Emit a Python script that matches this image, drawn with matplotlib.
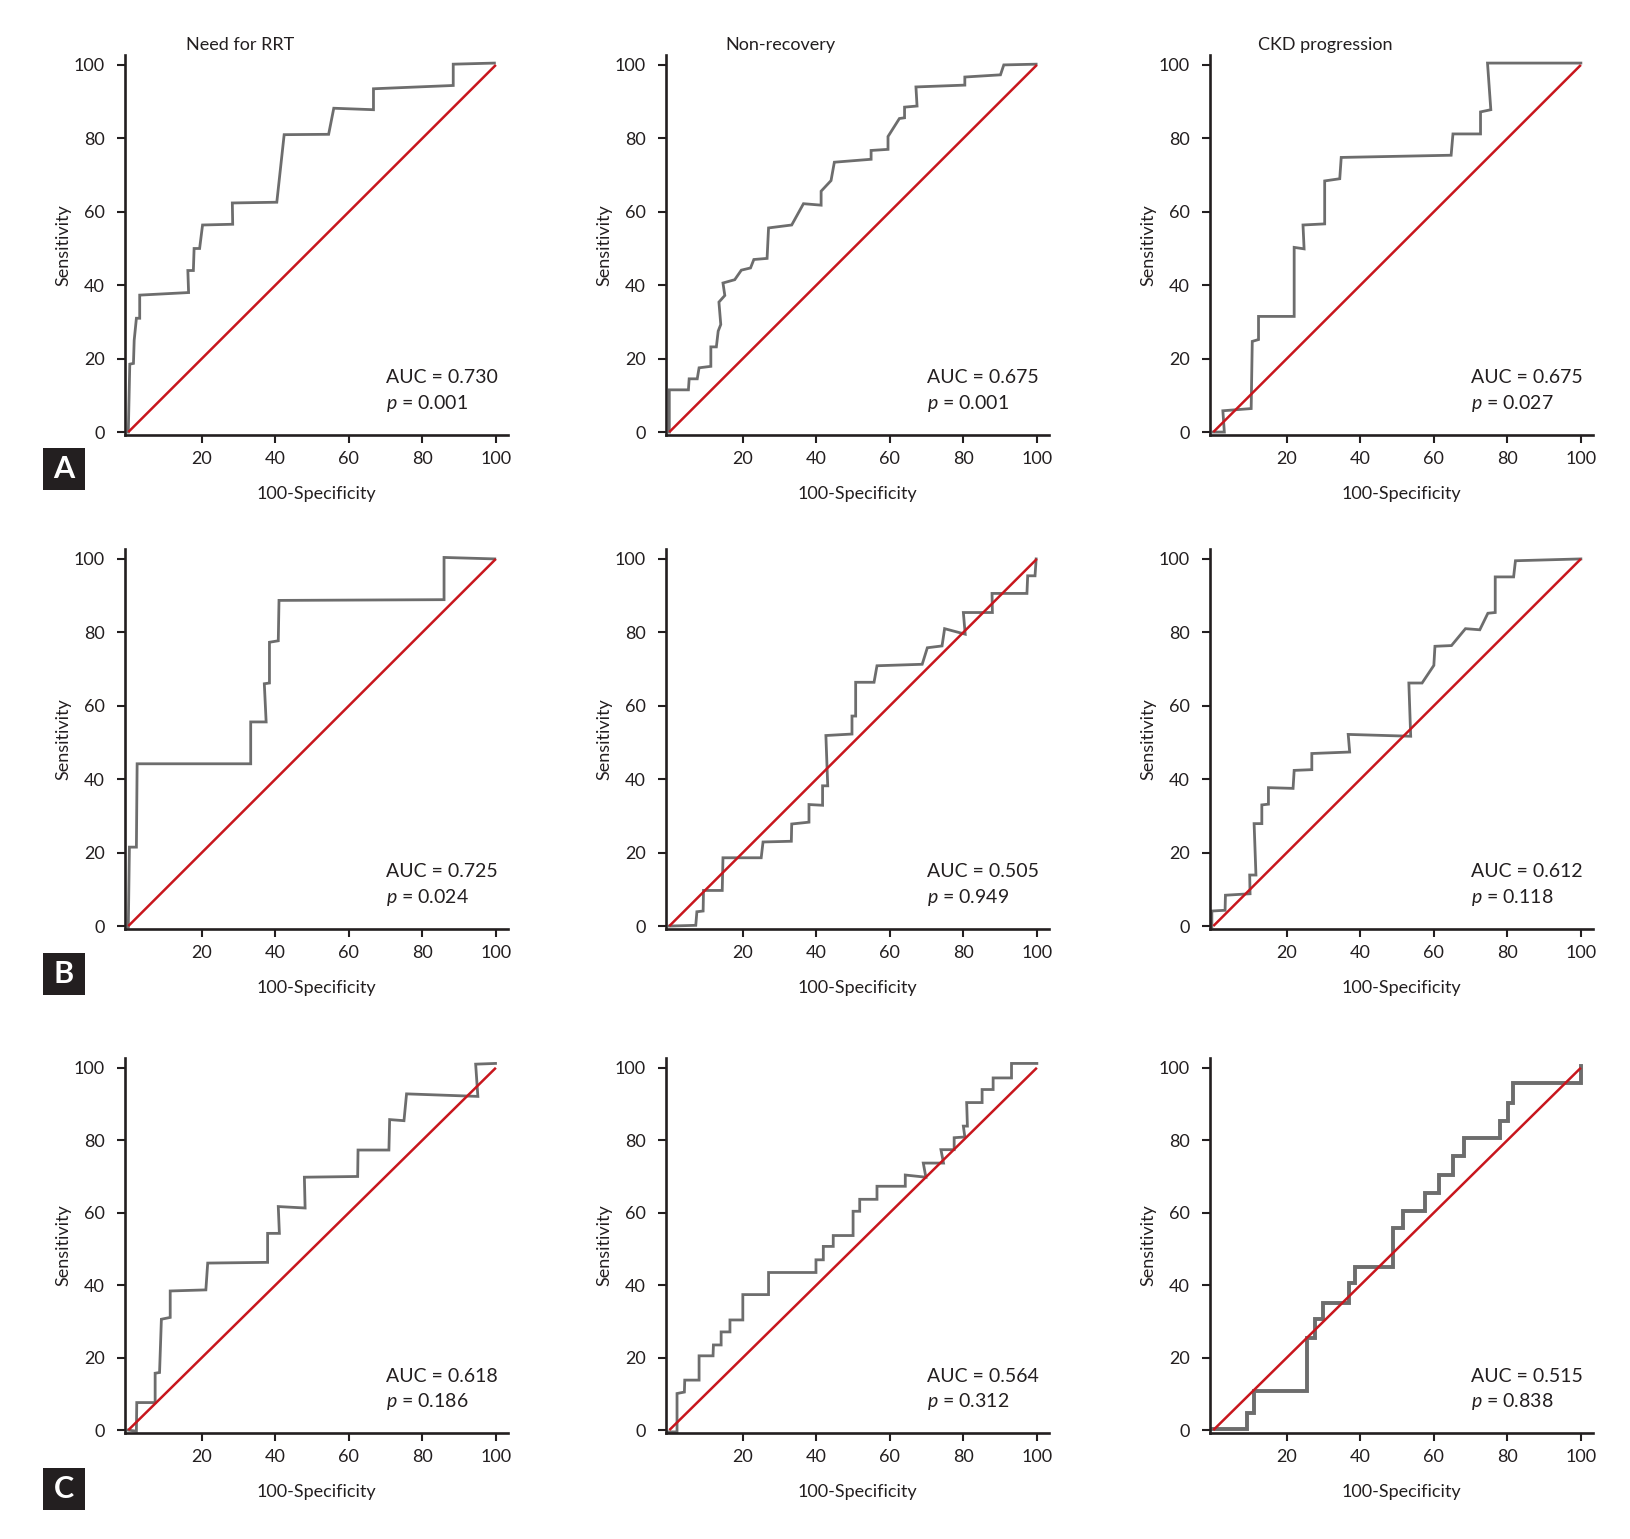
import matplotlib
matplotlib.use('Agg')
import matplotlib.pyplot as plt
from matplotlib.patches import Rectangle

plt.rcParams['font.family'] = ['Lato', 'DejaVu Sans']
plt.rcParams['mathtext.fontset'] = 'custom'
plt.rcParams['mathtext.rm'] = 'Lato'
plt.rcParams['mathtext.it'] = 'Lato:italic'

# column titles and row letters
col_titles = ['Need for RRT', 'Non-recovery', 'CKD progression']
row_letters = ['A', 'B', 'C']

# ROC points (100-specificity, sensitivity)
a1_x = [0, 0.4, 1.4, 1.6, 2.2, 3.1, 3.1, 16.4, 16.2, 17.7, 17.9, 19.4, 20.2, 28.4, 28.3, 40.4, 42.4, 54.5, 55.9, 66.7, 66.7, 88.4, 88.4, 99.6]
a1_y = [0, 18.5, 18.7, 25, 31, 31, 37.3, 38, 44, 44, 50, 50, 56.4, 56.6, 62.4, 62.6, 81, 81.1, 88.2, 87.8, 93.5, 94.4, 100.2, 100.5]

a2_x = [0, 0, 5.2, 5.4, 7.6, 8.1, 11.3, 11.3, 12.8, 13.3, 14, 13.5, 15.1, 14.6, 17.8, 19.6, 22.1, 23, 26.6, 27, 33.3, 36.5, 41.3, 41.3, 44, 44.9, 54.9, 54.9, 59.5, 59.5, 62.6, 64, 64, 67.4, 67.1, 80.4, 80.4, 90.1, 91, 99.8]
a2_y = [0, 11.5, 11.5, 14.5, 14.5, 17.5, 17.9, 23.2, 23.2, 27.5, 29.3, 35.4, 37.2, 40.6, 41.5, 44.1, 44.7, 47, 47.3, 55.6, 56.4, 62.2, 61.8, 65.6, 68.5, 73.5, 74.3, 76.7, 77, 80.5, 85.4, 85.6, 88.5, 88.8, 94, 94.5, 96.7, 97.3, 100, 100.2]

a3_x = [0, 3, 2.6, 10.3, 10.6, 12.3, 12.3, 22, 22, 24.7, 24.4, 30.3, 30.3, 34.4, 34.8, 64.7, 65.2, 72.7, 72.7, 75.5, 74.6, 100]
a3_y = [0, 0, 5.8, 6.4, 24.7, 25.2, 31.5, 31.5, 50.3, 49.9, 56.4, 56.7, 68.4, 69, 74.8, 75.4, 81.2, 81.2, 87.2, 87.8, 100.5, 100.5]

b1_x = [0, 0.3, 2.2, 2.4, 33.3, 33.3, 37.5, 37, 38.4, 38.4, 40.8, 41, 85.9, 85.9, 99.7]
b1_y = [-0.3, 21.5, 21.5, 44.2, 44.2, 55.6, 55.6, 66, 66.2, 77.3, 77.7, 88.7, 88.9, 100.4, 100]

b2_x = [0, 7.2, 7.5, 9.2, 9.3, 14.4, 14.6, 25, 25.5, 33.2, 33.3, 38, 38, 41.7, 41.7, 43.1, 42.6, 49.7, 49.7, 50.7, 50.7, 55.7, 56.5, 68.8, 70.2, 74.2, 74.9, 80.5, 80, 87.9, 87.8, 97.3, 97.5, 99.5, 99.8]
b2_y = [0, 0.2, 3.9, 4.1, 9.7, 9.7, 18.6, 18.6, 22.9, 23.1, 27.8, 28.3, 33.1, 32.9, 38.2, 38.2, 51.9, 52.3, 57.2, 57.2, 66.4, 66.4, 70.9, 71.3, 75.8, 76.3, 81, 79.5, 85.4, 85.4, 90.6, 90.6, 95.4, 95.4, 100]

b3_x = [-0.4, -0.4, 3.2, 3.3, 10, 9.9, 11.6, 11.1, 13.2, 13.2, 15, 15, 21.7, 22, 26.8, 26.8, 37.1, 36.7, 53.7, 53.2, 56.8, 60, 60.3, 64.8, 68.6, 72.5, 74.7, 76.7, 76.7, 81.7, 82.2, 100]
b3_y = [-0.3, 4.1, 4.3, 8.4, 8.8, 13.9, 13.9, 27.9, 27.9, 33, 33.2, 37.7, 37.5, 42.4, 42.6, 47, 47.4, 52.2, 51.7, 66.2, 66.2, 71, 76.2, 76.4, 81, 80.7, 85.2, 85.4, 95.1, 95.1, 99.5, 100]

c1_x = [0, 2.2, 2.3, 7.3, 7.3, 8.5, 9, 11.4, 11.4, 21.1, 21.6, 37.9, 37.9, 41.1, 40.8, 48.1, 47.9, 62.4, 62.5, 70.9, 71.1, 75, 75.7, 95.1, 94.5, 99.9]
c1_y = [0, -0.3, 7.6, 7.6, 15.7, 15.9, 30.6, 31.1, 38.4, 38.7, 46.1, 46.3, 54.3, 54.3, 61.7, 61.3, 69.8, 70, 77.3, 77.3, 85.7, 85.4, 92.8, 92.1, 101, 101.2]

c2_x = [-0.7, 2.1, 2.1, 4.1, 4.2, 8.1, 8.1, 11.9, 12, 14.1, 14.1, 16.5, 16.5, 20, 20, 27, 27, 39.9, 39.9, 41.9, 41.9, 44.6, 44.6, 50, 50, 51.8, 51.8, 56.5, 56.5, 64.2, 64.2, 69.8, 69.1, 74.6, 73.9, 77.5, 77.5, 80.4, 80, 81.1, 80.9, 85.1, 85.1, 88.1, 88.1, 93.1, 93.1, 100]
c2_y = [-0.5, -0.5, 10.1, 10.5, 13.8, 13.8, 20.5, 20.5, 23.5, 23.5, 27.1, 27.1, 30.4, 30.4, 37.4, 37.4, 43.5, 43.5, 47, 47, 50.7, 50.7, 53.7, 53.7, 60.4, 60.4, 63.7, 63.7, 67.3, 67.3, 70.4, 69.8, 73.7, 73.7, 77.4, 77.4, 80.7, 80.9, 83.9, 83.9, 90.4, 90.4, 94, 94, 97.2, 97.2, 101.2, 101.2]

c3_x = [-0.4, 9.1, 9.1, 11.1, 11.1, 25.6, 25.6, 27.7, 27.7, 29.9, 29.9, 36.9, 36.9, 38.5, 38.5, 48.9, 48.9, 51.6, 51.6, 57.6, 57.6, 61.4, 61.4, 65.2, 65.2, 68.1, 68.1, 77.9, 77.9, 80.2, 80.2, 81.5, 81.5, 100, 100]
c3_y = [0.2, 0.2, 4.8, 4.8, 10.8, 10.8, 25.3, 25.3, 30.6, 30.6, 35.2, 35.2, 40.6, 40.6, 45.1, 45.1, 55.7, 55.7, 60.4, 60.4, 65.5, 65.5, 70.5, 70.5, 75.6, 75.6, 80.6, 80.6, 85.3, 85.3, 90.3, 90.3, 95.9, 95.9, 100.5]

curves_x = [[a1_x, a2_x, a3_x], [b1_x, b2_x, b3_x], [c1_x, c2_x, c3_x]]
curves_y = [[a1_y, a2_y, a3_y], [b1_y, b2_y, b3_y], [c1_y, c2_y, c3_y]]

auc_values = [['0.730', '0.675', '0.675'], ['0.725', '0.505', '0.612'], ['0.618', '0.564', '0.515']]
p_values = [['0.001', '0.001', '0.027'], ['0.024', '0.949', '0.118'], ['0.186', '0.312', '0.838']]

W, H = 1631, 1539
fig = plt.figure(figsize=(W / 100.0, H / 100.0), dpi=100)

col_left = [125, 666, 1210]
ax_w = 383
row_top = [55, 549, 1058]
row_h = [380, 380, 375]
letter_top = [448, 953, 1468]

ink = '#231f20'
gray = '#6d6d6d'
red = '#c8161d'

for r in range(3):
    for c in range(3):
        ax = fig.add_axes([col_left[c] / W, 1 - (row_top[r] + row_h[r]) / H, ax_w / W, row_h[r] / H])
        ax.plot([0, 100], [0, 100], color=red, lw=1.8, zorder=3, solid_capstyle='butt')
        lw = 2.8 if (r == 2 and c == 2) else 2.0
        ax.plot(curves_x[r][c], curves_y[r][c], color=gray, lw=lw, zorder=2, solid_joinstyle='miter')
        ax.set_xlim(-0.9, 103.3)
        ax.set_ylim(-0.8, 102.7)
        ax.set_xticks([20, 40, 60, 80, 100])
        ax.set_yticks([0, 20, 40, 60, 80, 100])
        for s in ['top', 'right']:
            ax.spines[s].set_visible(False)
        for s in ['left', 'bottom']:
            ax.spines[s].set_linewidth(1.9)
            ax.spines[s].set_color(ink)
        ax.tick_params(axis='both', direction='out', length=5.5, width=1.5, colors=ink, labelsize=13)
        ax.tick_params(axis='y', pad=9)
        ax.tick_params(axis='x', pad=6)
        ax.set_xlabel('100-Specificity', fontsize=13, color=ink)
        ax.set_ylabel('Sensitivity', fontsize=13, color=ink)
        ax.xaxis.set_label_coords(0.5, -0.135)
        ax.yaxis.set_label_coords(-0.14, 0.5)
        ax.text(70, 14.8, 'AUC = ' + auc_values[r][c], fontsize=14, color=ink, ha='left', va='center')
        ax.text(70, 7.8, '$p$ = ' + p_values[r][c], fontsize=14, color=ink, ha='left', va='center')
        if r == 0:
            ax.text(0.30, 1.027, col_titles[c], transform=ax.transAxes, fontsize=13,
                    color=ink, ha='center', va='center')

    # black letter box for the row
    fig.patches.append(Rectangle((43 / W, 1 - (letter_top[r] + 42) / H), 42 / W, 42 / H,
                                 transform=fig.transFigure, facecolor=ink, edgecolor='none'))
    fig.text(64 / W, 1 - (letter_top[r] + 21) / H, row_letters[r], color='white',
             fontsize=22, fontweight='bold', ha='center', va='center')

fig.savefig('out.png', dpi=100, facecolor='white')
